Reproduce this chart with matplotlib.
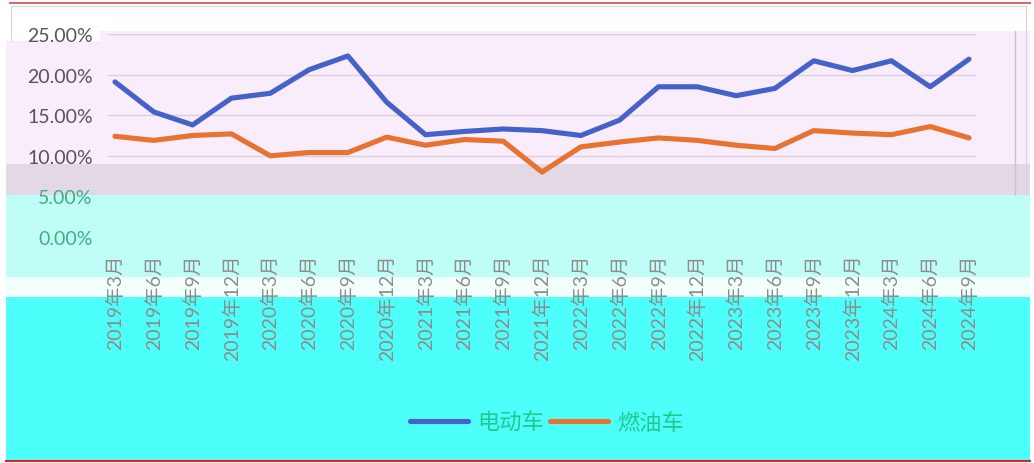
import matplotlib
matplotlib.use("Agg")
import matplotlib.pyplot as plt
from matplotlib.patches import Rectangle
from matplotlib.lines import Line2D
from matplotlib.ticker import PercentFormatter, MultipleLocator

plt.rcParams['font.family'] = ['Lato', 'Noto Sans CJK SC', 'DejaVu Sans']

# quarter labels
labels = ['2019年3月', '2019年6月', '2019年9月', '2019年12月',
          '2020年3月', '2020年6月', '2020年9月', '2020年12月',
          '2021年3月', '2021年6月', '2021年9月', '2021年12月',
          '2022年3月', '2022年6月', '2022年9月', '2022年12月',
          '2023年3月', '2023年6月', '2023年9月', '2023年12月',
          '2024年3月', '2024年6月', '2024年9月']

# values in %
ev = [19.1, 15.4, 13.8, 17.1, 17.7, 20.6, 22.3, 16.6, 12.6, 13.0, 13.3, 13.1,
      12.5, 14.4, 18.5, 18.5, 17.4, 18.3, 21.7, 20.5, 21.7, 18.5, 21.9]
ice = [12.4, 11.9, 12.5, 12.7, 10.0, 10.4, 10.4, 12.3, 11.3, 12.0, 11.8, 8.0,
       11.1, 11.7, 12.2, 11.9, 11.3, 10.9, 13.1, 12.8, 12.6, 13.6, 12.2]

series_names = ['电动车', '燃油车']
series_colors = ['#4462C8', '#E8722F']

W, H = 1034, 464
fig = plt.figure(figsize=(W / 100, H / 100), dpi=100)
fig.patch.set_facecolor('white')


def band(x0, y0, x1, y1, color):
    # pixel box (top-left origin) -> figure coords
    fig.add_artist(Rectangle((x0 / W, 1 - y1 / H), (x1 - x0) / W, (y1 - y0) / H,
                             transform=fig.transFigure, facecolor=color,
                             edgecolor='none', zorder=-2))


def pline(xs, ys, color, lw):
    fig.add_artist(Line2D([v / W for v in xs], [1 - v / H for v in ys],
                          transform=fig.transFigure, color=color, lw=lw, zorder=-1))


# background bands of the screenshot
band(100, 32, 1030, 42, '#F9EDFB')
band(6, 42, 1030, 165, '#F9EDFB')
band(6, 165, 1030, 196, '#E3D8E5')
band(6, 196, 1030, 278, '#BFFEF7')
band(6, 278, 1030, 298, '#F3FFFC')
band(6, 298, 1030, 461, '#4DFFFA')

# frame lines
pline([10, 1030], [4, 4], '#E06666', 1.5)
pline([6, 1030], [462, 462], '#E02222', 1.5)
pline([11, 1026], [7, 7], '#D4D4D4', 0.8)
pline([11, 11], [7, 42], '#D4D4D4', 0.8)
pline([1026, 1026], [7, 196], '#D4D4D4', 0.8)
pline([1015, 1015], [32, 196], '#CDBFD2', 1.0)

ax = fig.add_axes([108 / W, 1 - 238 / H, 868 / W, 203 / H])
ax.patch.set_alpha(0)

x = list(range(len(labels)))
for vals, name, col in zip([ev, ice], series_names, series_colors):
    ax.plot(x, vals, color=col, lw=3.7, solid_capstyle='round',
            solid_joinstyle='round', label=name, zorder=3)

ax.set_xlim(-0.18, len(labels) - 1 + 0.18)
ax.set_ylim(0, 25)
ax.yaxis.set_major_locator(MultipleLocator(5))
ax.yaxis.set_major_formatter(PercentFormatter(decimals=2))
ax.grid(axis='y', color='#DCCFE0', lw=1.0)
ax.set_axisbelow(True)
for s in ax.spines.values():
    s.set_visible(False)
# bottom gridlines disappear into the bands in the reference
for g, v in zip(ax.yaxis.get_gridlines(), ax.get_yticks()):
    if v < 7:
        g.set_visible(False)

ax.set_xticks(x)
ax.set_xticklabels(labels, rotation=90, fontsize=14, color='#8C8C8C')
ax.tick_params(axis='x', length=0, pad=12)
ax.tick_params(axis='y', length=0, pad=11, labelsize=14, labelcolor='#595060')
for t, v in zip(ax.get_yticklabels(), ax.get_yticks()):
    if v < 7:
        t.set_color('#3FAE82')

handles = [Line2D([0], [0], color=c, lw=3.7, solid_capstyle='round') for c in series_colors]
leg = fig.legend(handles, series_names, loc='center', bbox_to_anchor=(547 / W, 1 - 423 / H),
                 ncol=2, frameon=False, fontsize=16, handlelength=2.6,
                 handletextpad=0.4, columnspacing=0.3)
for t in leg.get_texts():
    t.set_color('#22C98F')

fig.savefig('out.png', dpi=100)
